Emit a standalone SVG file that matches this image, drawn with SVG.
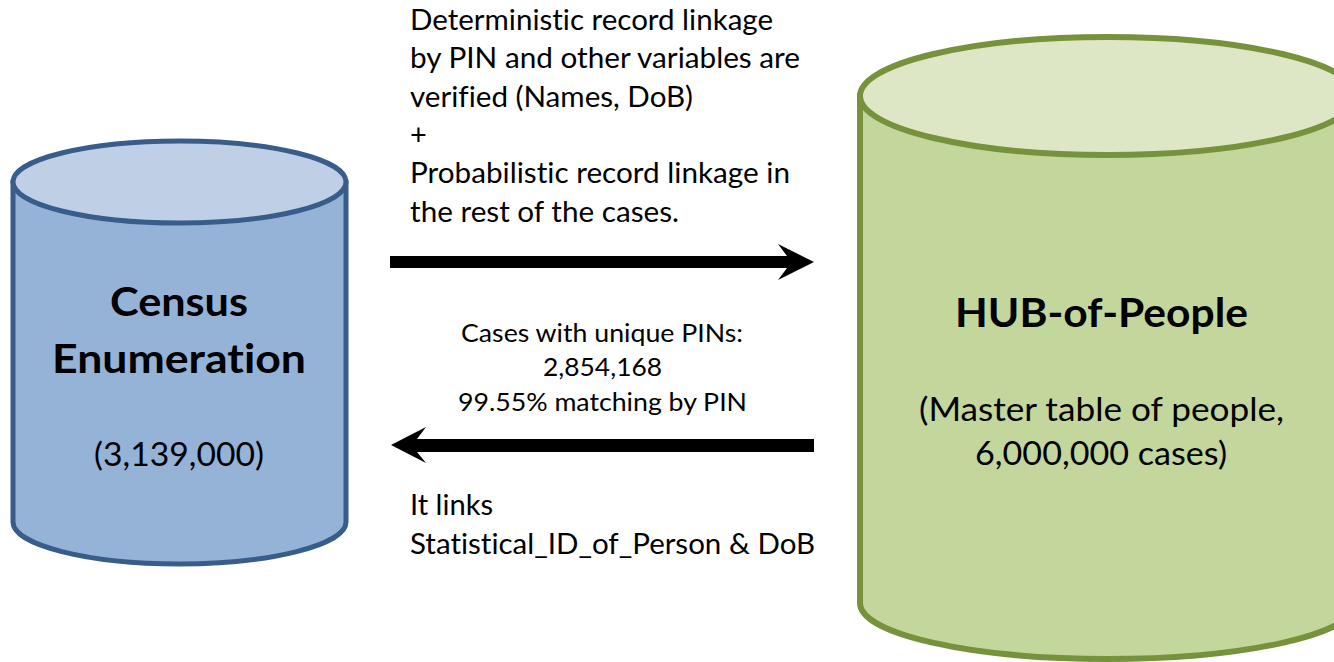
<svg xmlns="http://www.w3.org/2000/svg" width="1334" height="662" viewBox="0 0 1334 662">
<style>
text{font-family:Lato,"Open Sans","Liberation Sans",sans-serif;fill:#000;white-space:pre;font-variant-ligatures:none}
.t{font-size:29px}
.c{text-anchor:middle}
.m{font-size:25.5px}
.b{font-size:39.5px;font-weight:700}
.n{font-size:33.5px}
.blue{fill:#95b3d7;stroke:#385d8a;stroke-width:5}
.bluet{fill:#bfd0e6;stroke:#385d8a;stroke-width:5}
.green{fill:#c3d69b;stroke:#76923c;stroke-width:6}
.greent{fill:#dde7c6;stroke:#76923c;stroke-width:6}
</style>
<rect width="1334" height="662" fill="#fff"/>
<g id="census">
<path class="blue" d="M13 182V522C13 545 88 564 179 564S346 545 346 522V182Z"/>
<ellipse class="bluet" cx="179.500" cy="182" rx="166.500" ry="41"/>
<text class="b c" x="179" y="316" textLength="138" lengthAdjust="spacingAndGlyphs">Census</text>
<text class="b c" x="179" y="373" textLength="254" lengthAdjust="spacingAndGlyphs">Enumeration</text>
<text class="n c" x="179" y="466" textLength="170" lengthAdjust="spacingAndGlyphs">(3,139,000)</text>
</g>
<g id="hub">
<path class="green" d="M860 96V603C860 634 971 659 1108 659S1356 634 1356 603V96Z"/>
<ellipse class="greent" cx="1108" cy="96" rx="248" ry="59"/>
<text class="b c" x="1101.500" y="327" textLength="293" lengthAdjust="spacingAndGlyphs">HUB-of-People</text>
<text class="n c" x="1101.500" y="421" textLength="365" lengthAdjust="spacingAndGlyphs">(Master table of people,</text>
<text class="n c" x="1101" y="465" textLength="252" lengthAdjust="spacingAndGlyphs">6,000,000 cases)</text>
</g>
<g id="connectors">
<path d="M390 256H787L778 244L814 262L778 280L787 268H390Z" fill="#000"/>
<path d="M814 439H417L426 427L391 445L426 463L417 452H814Z" fill="#000"/>
</g>
<g id="label-top">
<text class="t" x="410" y="30" textLength="363" lengthAdjust="spacingAndGlyphs">Deterministic record linkage</text>
<text class="t" x="410" y="68" textLength="390" lengthAdjust="spacingAndGlyphs">by PIN and other variables are</text>
<text class="t" x="410" y="107" textLength="283" lengthAdjust="spacingAndGlyphs">verified (Names, DoB)</text>
<text class="t" x="410" y="145">+</text>
<text class="t" x="410" y="183" textLength="380" lengthAdjust="spacingAndGlyphs">Probabilistic record linkage in</text>
<text class="t" x="410" y="222" textLength="269" lengthAdjust="spacingAndGlyphs">the rest of the cases.</text>
</g>
<g id="label-mid">
<text class="m c" x="602" y="342" textLength="282" lengthAdjust="spacingAndGlyphs">Cases with unique PINs:</text>
<text class="m c" x="602.500" y="376" textLength="119" lengthAdjust="spacingAndGlyphs">2,854,168</text>
<text class="m c" x="602.500" y="411" textLength="289" lengthAdjust="spacingAndGlyphs">99.55% matching by PIN</text>
</g>
<g id="label-bottom">
<text class="t" x="410" y="515" textLength="83" lengthAdjust="spacingAndGlyphs">It links</text>
<text class="t" x="410" y="554" textLength="405" lengthAdjust="spacingAndGlyphs">Statistical_ID_of_Person &amp; DoB</text>
</g>
</svg>
